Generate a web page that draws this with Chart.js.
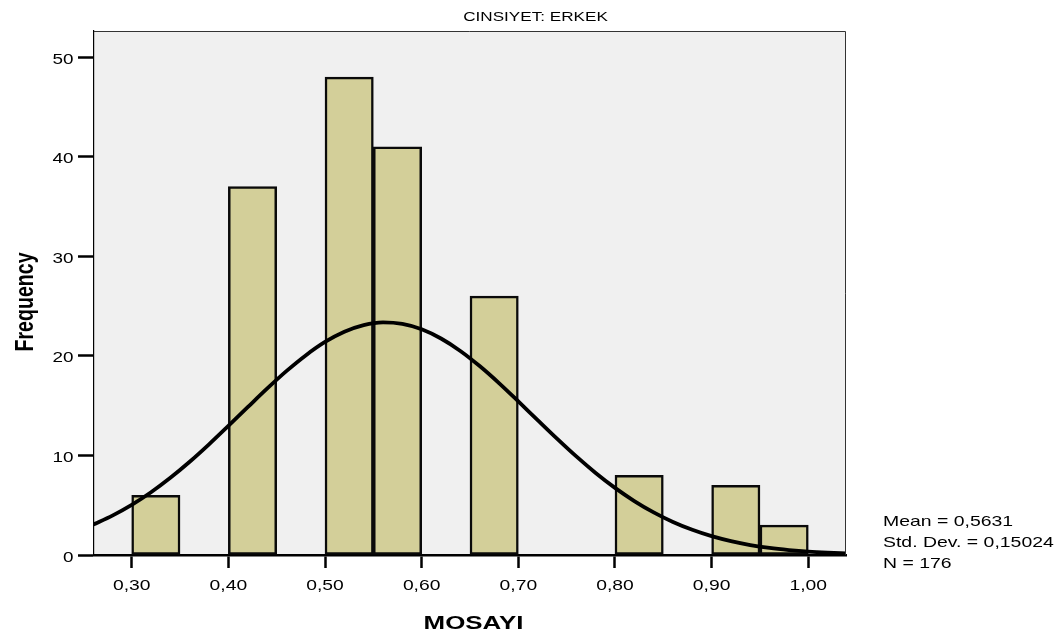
<!DOCTYPE html>
<html lang="tr">
<head>
    <meta charset="UTF-8">
    <title>CINSIYET: ERKEK - MOSAYI</title>
    <script src="https://cdn.jsdelivr.net/npm/chart.js"></script>
    <style>
        body {
            margin: 0;
            background: #fff;
        }

        #histWrap {
            width: 1064px;
            height: 637px;
            position: relative;
        }
    </style>
</head>
<body>
    <div id="histWrap">
        <canvas id="histChart"></canvas>
    </div>

    <script>
        // histogram bins (width 0,05) and their counts
        const binCenters = [0.325, 0.425, 0.525, 0.575, 0.675, 0.825, 0.925, 0.975];
        const frequencies = [6, 37, 48, 41, 26, 8, 7, 3];

        // normal curve read along the x axis
        const curveX = [0.26, 0.28, 0.30, 0.32, 0.34, 0.36, 0.38, 0.40, 0.42, 0.44,
                        0.46, 0.48, 0.50, 0.52, 0.54, 0.56, 0.58, 0.60, 0.62, 0.64,
                        0.66, 0.68, 0.70, 0.72, 0.74, 0.76, 0.78, 0.80, 0.82, 0.84,
                        0.86, 0.88, 0.90, 0.92, 0.94, 0.96, 0.98, 1.00, 1.02, 1.04];
        const curveY = [3.05, 3.96, 5.04, 6.31, 7.76, 9.37, 11.12, 12.97, 14.85, 16.71,
                        18.47, 20.05, 21.40, 22.43, 23.10, 23.37, 23.22, 22.68, 21.75, 20.50,
                        18.98, 17.27, 15.43, 13.55, 11.69, 9.90, 8.24, 6.74, 5.42, 4.28,
                        3.32, 2.53, 1.89, 1.39, 1.00, 0.71, 0.50, 0.34, 0.23, 0.15];

        const xTicks = [0.30, 0.40, 0.50, 0.60, 0.70, 0.80, 0.90, 1.00];
        const yTicks = [0, 10, 20, 30, 40, 50];

        const chartTitle = 'CINSIYET: ERKEK';
        const xTitle = 'MOSAYI';
        const yTitle = 'Frequency';
        const statsLines = ['Mean = 0,5631', 'Std. Dev. = 0,15024', 'N = 176'];

        const FONT = '"Liberation Sans", Arial, sans-serif';
        const SX = 1.35; // text is drawn a bit wide

        function wideText(ctx, text, x, y, font, align, angle) {
            ctx.save();
            ctx.translate(x, y);
            ctx.scale(SX, 1);
            if (angle) ctx.rotate(angle);
            ctx.font = font;
            ctx.fillStyle = '#000';
            ctx.textAlign = align;
            ctx.textBaseline = 'alphabetic';
            ctx.fillText(text, 0, 0);
            ctx.restore();
        }

        const histDecor = {
            id: 'histDecor',
            beforeDraw(chart) {
                const { ctx, chartArea: a } = chart;
                ctx.save();
                ctx.fillStyle = '#f0f0f0';
                ctx.fillRect(a.left, a.top, a.right - a.left, a.bottom - a.top);
                ctx.restore();
            },
            afterDraw(chart) {
                const { ctx, chartArea: a } = chart;
                const xs = chart.scales.x;
                const ys = chart.scales.y;

                // frame: top and right sides
                ctx.save();
                ctx.strokeStyle = '#333';
                ctx.lineWidth = 1;
                ctx.beginPath();
                ctx.moveTo(a.left, a.top + 0.5);
                ctx.lineTo(a.right - 0.5, a.top + 0.5);
                ctx.lineTo(a.right - 0.5, a.bottom);
                ctx.stroke();
                ctx.restore();

                // tick labels
                xTicks.forEach(v => {
                    const px = xs.getPixelForValue(v);
                    wideText(ctx, v.toFixed(2).replace('.', ','), px, 590, '14.3px ' + FONT, 'center');
                });
                yTicks.forEach(v => {
                    const py = ys.getPixelForValue(v);
                    wideText(ctx, String(v), 73.5, py + 6.5, '14px ' + FONT, 'right');
                });

                // titles
                wideText(ctx, chartTitle, 535.5, 20.7, '12.7px ' + FONT, 'center');
                wideText(ctx, xTitle, 473.5, 629, 'bold 19.2px ' + FONT, 'center');
                wideText(ctx, yTitle, 33, 302, 'bold 19.6px ' + FONT, 'center', -Math.PI / 2);

                // summary statistics
                statsLines.forEach((t, i) => {
                    wideText(ctx, t, 883, 525.7 + i * 21.1, '14.4px ' + FONT, 'left');
                });
            }
        };

        const ctx = document.getElementById('histChart').getContext('2d');

        const chart = new Chart(ctx, {
            type: 'bar',
            data: {
                datasets: [{
                    type: 'line',
                    label: 'Normal',
                    data: curveX.map((x, i) => ({ x: x, y: curveY[i] })),
                    borderColor: '#000',
                    borderWidth: 3.8,
                    pointRadius: 0,
                    fill: false,
                    cubicInterpolationMode: 'monotone',
                    order: 0,
                }, {
                    label: 'Frequency',
                    data: binCenters.map((x, i) => ({ x: x, y: frequencies[i] })),
                    backgroundColor: '#d3cf99',
                    borderColor: '#0a0a0a',
                    borderWidth: 2.5,
                    borderSkipped: false,
                    barPercentage: 1,
                    categoryPercentage: 1,
                    order: 1,
                }],
            },
            options: {
                responsive: true,
                maintainAspectRatio: false,
                animation: false,
                layout: {
                    padding: { top: 31, right: 218, left: 0, bottom: 0 },
                },
                plugins: {
                    legend: { display: false },
                    tooltip: { enabled: false },
                    title: { display: false },
                },
                scales: {
                    x: {
                        type: 'linear',
                        min: 0.261,
                        max: 1.039,
                        offset: false,
                        afterBuildTicks: s => { s.ticks = xTicks.map(v => ({ value: v })); },
                        afterFit: s => { s.height = 82; },
                        ticks: { display: false },
                        grid: {
                            offset: false,
                            drawOnChartArea: false,
                            tickLength: 13,
                            tickWidth: 2.5,
                            tickColor: '#000',
                        },
                        border: { display: true, color: '#000', width: 2.5 },
                    },
                    y: {
                        min: 0,
                        max: 52.64,
                        afterBuildTicks: s => { s.ticks = yTicks.map(v => ({ value: v })); },
                        afterFit: s => { s.width = 94; },
                        ticks: { display: false },
                        grid: {
                            drawOnChartArea: false,
                            tickLength: 16,
                            tickWidth: 2.5,
                            tickColor: '#000',
                        },
                        border: { display: true, color: '#000', width: 1.2 },
                    },
                },
            },
            plugins: [histDecor],
        });
    </script>
</body>
</html>
